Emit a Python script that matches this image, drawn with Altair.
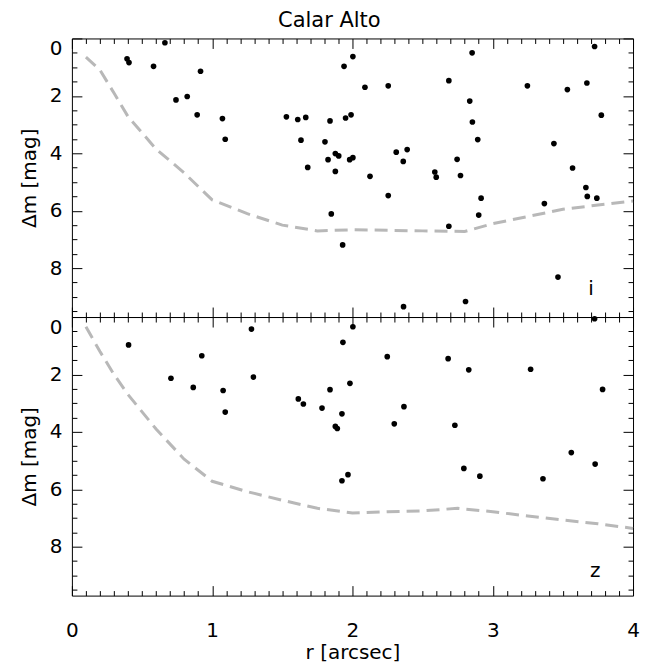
import altair as alt
import pandas as pd

FONT = "DejaVu Sans"
W, H = 562, 279

# ---- i band (top panel) detected sources ----
i_r = [0.393, 0.407, 0.663, 0.582, 0.917, 0.742, 0.822, 0.893, 1.073, 1.093,
       1.529, 1.610, 1.667, 1.840, 1.633, 1.804, 1.681, 1.826, 1.878, 1.902,
       1.878, 1.980, 2.003, 1.849, 1.930, 1.940, 2.003, 1.951, 1.990,
       2.089, 2.255, 2.687, 2.853, 2.836, 2.855, 2.893, 2.312, 2.390, 2.362,
       2.125, 2.255, 2.587, 2.597, 2.746, 2.770, 2.917, 2.900, 2.687, 2.364,
       2.806, 3.247, 3.532, 3.671, 3.726, 3.774, 3.436, 3.569, 3.664, 3.674,
       3.742, 3.368, 3.465]
i_dm = [0.71, 0.84, 0.15, 0.97, 1.14, 2.14, 2.02, 2.66, 2.79, 3.51,
        2.73, 2.82, 2.75, 2.87, 3.54, 3.60, 4.49, 4.22, 4.01, 4.09,
        4.63, 4.22, 4.15, 6.11, 7.19, 0.97, 0.63, 2.77, 2.66,
        1.70, 1.65, 1.47, 0.50, 2.18, 2.91, 3.52, 3.96, 3.87, 4.28,
        4.80, 5.47, 4.65, 4.83, 4.21, 4.77, 5.56, 6.15, 6.54, 9.34,
        9.16, 1.65, 1.78, 1.55, 0.28, 2.67, 3.66, 4.51, 5.19, 5.50,
        5.56, 5.75, 8.31]

# ---- i band contrast curve ----
i_curve_r = [0.1, 0.2, 0.3, 0.4, 0.6, 0.8, 1.0, 1.25, 1.5, 1.75, 2.0,
             2.25, 2.5, 2.8, 3.0, 3.25, 3.5, 3.75, 4.0]
i_curve_dm = [0.65, 1.10, 1.90, 2.72, 3.85, 4.68, 5.62, 6.10, 6.50, 6.70, 6.66,
              6.68, 6.70, 6.72, 6.45, 6.20, 5.95, 5.80, 5.66]

# ---- z band (bottom panel) detected sources ----
z_r = [0.404, 0.706, 0.865, 0.926, 1.078, 1.093, 1.280, 1.294, 1.614, 1.650,
       1.783, 1.840, 1.925, 1.878, 1.892, 1.932, 2.003, 1.982, 1.925, 1.968,
       2.248, 2.682, 2.829, 2.298, 2.367, 2.730, 2.794, 2.908, 3.270, 3.358,
       3.560, 3.730, 3.783, 3.726]
z_dm = [0.97, 2.13, 2.45, 1.35, 2.56, 3.31, 0.42, 2.09, 2.85, 3.03,
        3.17, 2.53, 3.37, 3.81, 3.88, 0.88, 0.34, 2.31, 5.70, 5.49,
        1.38, 1.45, 1.84, 3.72, 3.12, 3.77, 5.27, 5.54, 1.82, 5.63,
        4.72, 5.12, 2.52, 0.06]

# ---- z band contrast curve ----
z_curve_r = [0.1, 0.2, 0.3, 0.4, 0.6, 0.8, 1.0, 1.25, 1.5, 1.75, 2.0,
             2.25, 2.5, 2.75, 3.0, 3.25, 3.5, 3.75, 4.0]
z_curve_dm = [0.34, 1.20, 2.00, 2.70, 3.90, 4.95, 5.72, 6.08, 6.38, 6.66, 6.82,
              6.78, 6.75, 6.66, 6.78, 6.93, 7.07, 7.20, 7.36]

# panel labels (band name, position in data units)
band_names = ["i", "z"]
band_label_r = [3.70, 3.73]
band_label_dm = [8.71, 8.86]

x_label_values = [0, 1, 2, 3, 4]
y_label_values = [0, 2, 4, 6, 8]
x_minor_values = [round(0.1 * k, 1) for k in range(41) if k % 10 != 0]
y_minor_values = [0.5 * k for k in range(20) if k % 4 != 0]

X_DOMAIN = [0, 4]
Y_DOMAIN = [0, 9.7]
MAJOR, MINOR = 10, 5


def tick_axis(orient, offset, values, size):
    return alt.Axis(orient=orient, offset=offset, values=values, labels=False,
                    domain=False, grid=False, ticks=True, tickSize=size,
                    tickColor="black", tickWidth=1, title=None)


def panel(r, dm, cr, cdm, idx, bottom):
    pts = pd.DataFrame({"r": r, "dm": dm})
    cur = pd.DataFrame({"r": cr, "dm": cdm})
    lab = pd.DataFrame({"r": [band_label_r[idx]], "dm": [band_label_dm[idx]],
                        "t": [band_names[idx]]})
    xs = alt.Scale(domain=X_DOMAIN, nice=False, zero=False)
    ys = alt.Scale(domain=Y_DOMAIN, reverse=True, nice=False, zero=False)

    if bottom:
        x_main = alt.Axis(orient="bottom", values=x_label_values, ticks=False,
                          domain=False, grid=False, labelFontSize=20,
                          labelFont=FONT, labelColor="black", labelPadding=25,
                          labelFlush=False, titleFont=FONT,
                          titleFontSize=20, titleFontWeight="normal",
                          titleColor="black", titlePadding=2)
        x_title = "r [arcsec]"
    else:
        x_main = alt.Axis(orient="bottom", values=x_label_values, ticks=False,
                          domain=False, grid=False, labels=False)
        x_title = None
    y_main = alt.Axis(orient="left", values=y_label_values, ticks=False,
                      domain=False, grid=False, labelFontSize=20, labelFont=FONT,
                      labelColor="black", labelPadding=10, labelFlush=True,
                      titleFont=FONT, titleFontSize=20, titleFontWeight="normal",
                      titleColor="black", titlePadding=10)

    line = alt.Chart(cur).mark_line(color="#b8b8b8", strokeWidth=3,
                                    strokeDash=[13, 7]).encode(
        x=alt.X("r:Q", scale=xs, axis=tick_axis("top", -H, x_label_values, MAJOR)),
        y=alt.Y("dm:Q", scale=ys, axis=tick_axis("right", -W, y_label_values, MAJOR)),
    )
    points = alt.Chart(pts).mark_circle(size=32, color="black", opacity=1).encode(
        x=alt.X("r:Q", scale=xs, axis=x_main, title=x_title),
        y=alt.Y("dm:Q", scale=ys, axis=y_main, title="Δm [mag]"),
    )
    text = alt.Chart(lab).mark_text(fontSize=20, font=FONT, color="black",
                                    baseline="middle", align="center").encode(
        x=alt.X("r:Q", scale=xs, axis=tick_axis("bottom", -H, x_label_values, MAJOR)),
        y=alt.Y("dm:Q", scale=ys, axis=tick_axis("left", -W, y_label_values, MAJOR)),
        text="t:N",
    )
    ghost1 = alt.Chart(lab).mark_point(opacity=0).encode(
        x=alt.X("r:Q", scale=xs, axis=tick_axis("top", -H, x_minor_values, MINOR)),
        y=alt.Y("dm:Q", scale=ys, axis=tick_axis("right", -W, y_minor_values, MINOR)),
    )
    ghost2 = alt.Chart(lab).mark_point(opacity=0).encode(
        x=alt.X("r:Q", scale=xs, axis=tick_axis("bottom", -H, x_minor_values, MINOR)),
        y=alt.Y("dm:Q", scale=ys, axis=tick_axis("left", -W, y_minor_values, MINOR)),
    )
    return alt.layer(line, points, text, ghost1, ghost2).resolve_axis(
        x="independent", y="independent").properties(width=W, height=H)


top = panel(i_r, i_dm, i_curve_r, i_curve_dm, 0, False)
bot = panel(z_r, z_dm, z_curve_r, z_curve_dm, 1, True)

chart = alt.vconcat(top, bot, spacing=0).properties(
    title=alt.TitleParams("Calar Alto", font=FONT, fontSize=21,
                          fontWeight="normal", color="black", offset=6,
                          anchor="middle"),
    padding={"left": 10, "top": 2, "right": 10, "bottom": 2},
    bounds="flush",
).configure_view(stroke="black", strokeWidth=1)

chart.save("out.html", embed_options={"renderer": "svg", "actions": False})
